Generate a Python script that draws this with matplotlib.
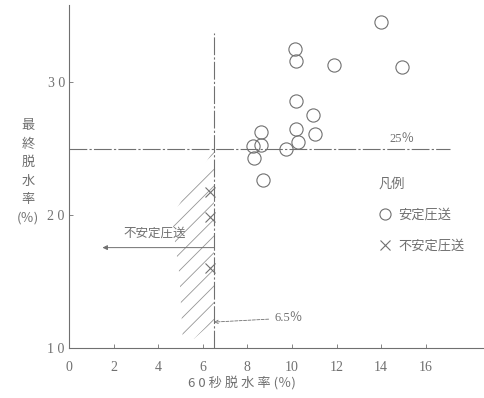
import numpy as np
import matplotlib
matplotlib.use("Agg")
import matplotlib.pyplot as plt
from matplotlib.patches import Polygon
from matplotlib.lines import Line2D

plt.rcParams['font.family'] = ['Noto Sans CJK JP', 'DejaVu Sans']
plt.rcParams['hatch.linewidth'] = 0.6

INK = '#707070'
SERIF = ['Liberation Serif', 'DejaVu Serif']

# 安定圧送 (stable)
stable_x = [14.0, 10.13, 10.17, 11.87, 14.93, 10.16, 10.93, 10.20, 11.05,
            8.60, 8.60, 8.26, 10.25, 9.75, 8.29, 8.71]
stable_y = [34.5, 32.5, 31.6, 31.25, 31.15, 28.55, 27.55, 26.5, 26.1,
            26.25, 25.3, 25.2, 25.5, 25.0, 24.3, 22.6]

# 不安定圧送 (unstable)
unstable_x = [6.32, 6.32, 6.32]
unstable_y = [21.75, 19.85, 16.0]

limit_x = 6.5      # 60秒脱水率の境界
limit_y = 25.0     # 最終脱水率の境界
hatch_x = [6.5, 4.6, 4.95, 5.1, 5.6, 6.5]
hatch_y = [24.9, 19.9, 15.5, 10.7, 10.7, 12.0]

xticks = [0, 2, 4, 6, 8, 10, 12, 14, 16]
yticks = [10, 20, 30]
ytick_labels = ['1 0', '2 0', '3 0']

fig = plt.figure(figsize=(4.84, 3.98), dpi=100)
ax = fig.add_axes([0.1426, 0.1256, 0.857, 0.862])
ax.set_xlim(0, 18.6)
ax.set_ylim(10, 35.8)

for s in ['top', 'right']:
    ax.spines[s].set_visible(False)
for s in ['left', 'bottom']:
    ax.spines[s].set_color(INK)
    ax.spines[s].set_linewidth(0.8)

ax.set_xticks(xticks)
ax.set_xticklabels([str(v) for v in xticks], fontfamily=SERIF, fontsize=10, color=INK)
ax.set_yticks(yticks)
ax.set_yticklabels(ytick_labels, fontfamily=SERIF, fontsize=10, color=INK)
ax.tick_params(direction='in', length=3, width=0.6, color=INK, pad=3)
ax.tick_params(axis='x', pad=9)

# 斜線部（不安定領域）
ax.add_patch(Polygon(list(zip(hatch_x, hatch_y)), closed=True, fill=False,
                     hatch='//', edgecolor='#959595', linewidth=0))

# 境界線
ax.plot([limit_x, limit_x], [10, 33.7], color=INK, lw=0.8,
        ls=(0, (16, 2, 2, 2)))
ax.plot([0, 17.1], [limit_y, limit_y], color=INK, lw=0.8,
        ls=(0, (16, 2, 2, 2)))

ax.plot(stable_x, stable_y, ls='none', marker='o', ms=9.5, mfc='none',
        mec=INK, mew=0.8)
ax.plot(unstable_x, unstable_y, ls='none', marker='x', ms=7, mec=INK, mew=0.8)

ax.text(14.93, 25.25, '25％', fontsize=9, color=INK, ha='center', va='bottom',
        family=SERIF + ['Noto Sans CJK JP'])

ax.annotate('', xy=(1.5, 17.55), xytext=(6.5, 17.55),
            arrowprops=dict(arrowstyle='-|>', color=INK, lw=0.7,
                            mutation_scale=7, shrinkA=0, shrinkB=0))
ax.text(3.86, 18.65, '不安定圧送', fontsize=9, color=INK, ha='center', va='center')

ax.annotate('6.5％', xy=(6.5, 11.95), xytext=(9.2, 12.25), fontsize=9,
            color=INK, ha='left', va='center',
            family=SERIF + ['Noto Sans CJK JP'],
            arrowprops=dict(arrowstyle='->', color=INK, lw=0.6, ls='--',
                            mutation_scale=6, shrinkA=2, shrinkB=0))

handles = [Line2D([], [], ls='none', marker='o', ms=8, mfc='none', mec=INK, mew=0.8),
           Line2D([], [], ls='none', marker='x', ms=7, mec=INK, mew=0.8)]
leg = ax.legend(handles, ['安定圧送', '不安定圧送'], title='凡例', frameon=False,
                loc='upper left', bbox_to_anchor=(0.73, 0.515), borderpad=0,
                handlelength=1.0, handletextpad=0.5, labelspacing=1.35,
                alignment='left', fontsize=9.5, title_fontsize=9.5)
for t in leg.get_texts():
    t.set_color(INK)
leg.get_title().set_color(INK)

fig.text(0.058, 0.568, '最\n終\n脱\n水\n率\n(％)', fontsize=9.5, color=INK,
         ha='center', va='center', linespacing=1.55)
fig.text(0.5, 0.038, '6 0 秒 脱 水 率 (％)', fontsize=9.5, color=INK,
         ha='center', va='center')

fig.savefig('out.png', dpi=100)
